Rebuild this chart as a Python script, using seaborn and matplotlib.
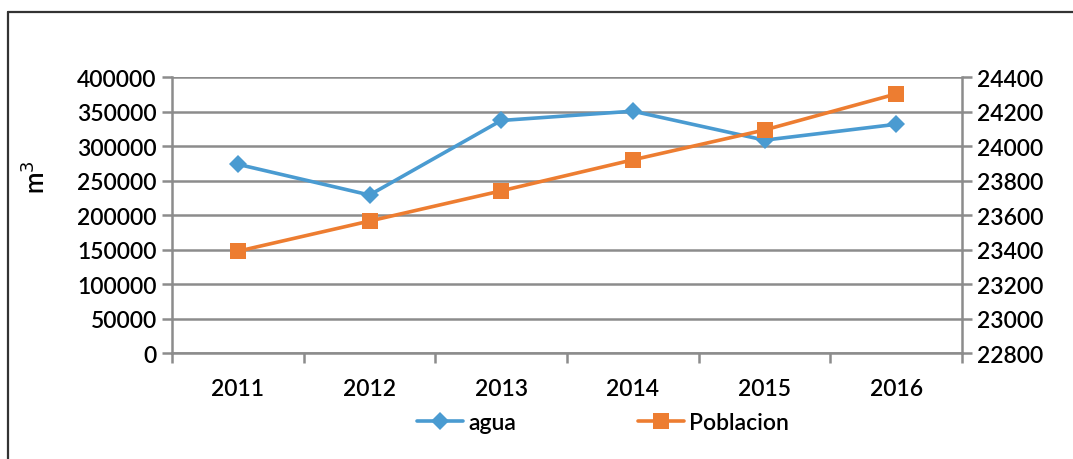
import matplotlib
matplotlib.use("Agg")
import matplotlib.pyplot as plt
from matplotlib.lines import Line2D
import seaborn as sns
import pandas as pd

years = ["2011", "2012", "2013", "2014", "2015", "2016"]
agua = [273500, 229000, 337000, 350500, 308500, 331500]
poblacion = [23390, 23565, 23740, 23920, 24093, 24302]
left_ticks = [0, 50000, 100000, 150000, 200000, 250000, 300000, 350000, 400000]
right_ticks = [22800, 23000, 23200, 23400, 23600, 23800, 24000, 24200, 24400]

sns.set_theme(style="white")
plt.rcParams['font.family'] = ['Lato', 'DejaVu Sans']
plt.rcParams['text.color'] = 'black'
plt.rcParams['xtick.color'] = 'black'
plt.rcParams['ytick.color'] = 'black'
plt.rcParams['axes.labelcolor'] = 'black'

FS = 16.5
FW = "semibold"

df = pd.DataFrame({"year": years, "agua": agua, "Poblacion": poblacion})

fig = plt.figure(figsize=(10.73, 4.6), dpi=100)
ax = fig.add_axes([0.1603, 0.2304, 0.7363, 0.6000])
ax2 = ax.twinx()

blue = "#4A9BD1"
orange = "#ED7D31"
grid_c = "#8C8C8C"

sns.lineplot(data=df, x="year", y="agua", ax=ax, color=blue, lw=2.6,
             marker="D", markersize=9, markeredgewidth=0, sort=False, zorder=5)
sns.lineplot(data=df, x="year", y="Poblacion", ax=ax2, color=orange, lw=2.6,
             marker="s", markersize=11, markeredgewidth=0, sort=False, zorder=5)

ax.set_ylim(0, 400000)
ax2.set_ylim(22800, 24400)
ax.set_yticks(left_ticks)
ax.set_yticklabels([str(v) for v in left_ticks], fontsize=FS, fontweight=FW)
ax2.set_yticks(right_ticks)
ax2.set_yticklabels([str(v) for v in right_ticks], fontsize=FS, fontweight=FW)
ax.set_xlim(-0.5, 5.5)

ax.set_xticks(range(6))
ax.set_xticklabels(years, fontsize=FS, fontweight=FW)
ax.set_xticks([i - 0.5 for i in range(7)], minor=True)
ax.tick_params(axis="x", which="major", length=0, pad=18, labelcolor="black")
ax.tick_params(axis="x", which="minor", length=7, width=1.8, color=grid_c, direction="out", bottom=True)
ax.tick_params(axis="y", length=7, width=1.8, color=grid_c, direction="out", left=True, labelcolor="black", pad=4)
ax2.tick_params(axis="y", length=7, width=1.8, color=grid_c, direction="out", right=True, labelcolor="black", pad=4)

ax.yaxis.grid(True, color=grid_c, lw=1.8)
ax.set_axisbelow(True)
ax2.grid(False)

for a in (ax, ax2):
    a.spines["top"].set_visible(False)
    for s in ("left", "right", "bottom"):
        a.spines[s].set_color(grid_c)
        a.spines[s].set_linewidth(1.8)
ax.spines["right"].set_visible(False)
ax2.spines["left"].set_visible(False)
ax2.spines["bottom"].set_visible(False)

ax.set_xlabel("")
ax2.set_ylabel("")
ax.set_ylabel("m$^3$", fontsize=18.5, fontweight=FW)
ax.yaxis.set_label_coords(-0.155, 0.64)

h1 = Line2D([], [], color=blue, lw=2.6, marker="D", markersize=9, markeredgewidth=0)
h2 = Line2D([], [], color=orange, lw=2.6, marker="s", markersize=11, markeredgewidth=0)
leg = fig.legend([h1, h2], ["agua", "Poblacion"], loc="center", bbox_to_anchor=(0.562, 0.08),
                 ncol=2, frameon=False, prop={"size": FS, "weight": FW},
                 handlelength=2.0, handletextpad=0.25, columnspacing=5.3)
if ax2.get_legend():
    ax2.get_legend().remove()
if ax.get_legend():
    ax.get_legend().remove()

fig.add_artist(Line2D([8/1073, 1.0], [1 - 13/460, 1 - 13/460], color="#333333", lw=1.6, transform=fig.transFigure))
fig.add_artist(Line2D([8/1073, 8/1073], [0, 1 - 13/460], color="#333333", lw=1.6, transform=fig.transFigure))

fig.savefig("out.png", dpi=100, facecolor="white")
